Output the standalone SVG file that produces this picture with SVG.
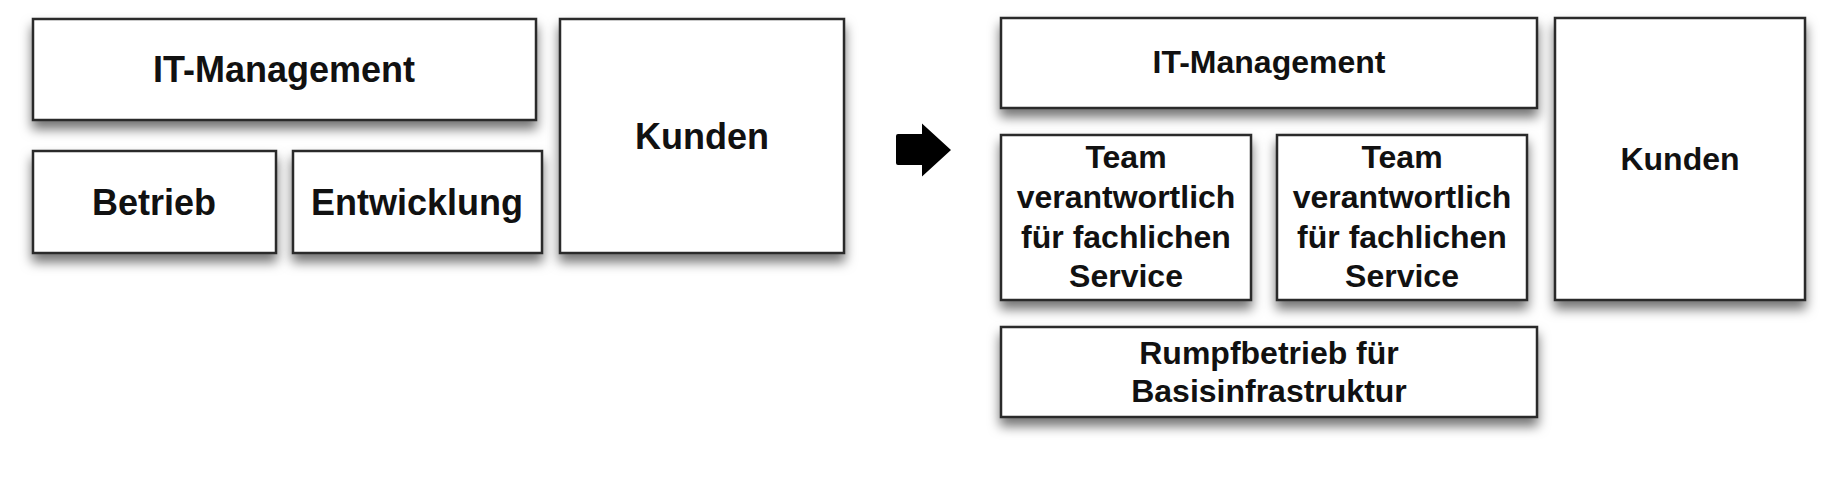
<svg xmlns="http://www.w3.org/2000/svg" width="1845" height="478" viewBox="0 0 1845 478">
<style>
.box{fill:#fff;stroke:#2a2a2a;stroke-width:2.5;filter:url(#sh)}
.t{font-family:"Liberation Sans",Arial,sans-serif;font-weight:bold;fill:#111;text-anchor:middle}
.l{font-size:36px}
.r{font-size:32px}
</style>
<defs>
<filter id="sh" x="-10%" y="-20%" width="120%" height="150%">
<feDropShadow dx="0" dy="8" stdDeviation="6" flood-color="#000" flood-opacity="0.55"/>
</filter>
</defs>
<rect width="1845" height="478" fill="#fff"/>
<g id="it-management-left">
<rect class="box" x="33" y="19" width="503" height="101"/>
<text class="t l" x="284" y="82">IT-Management</text>
</g>
<g id="betrieb">
<rect class="box" x="33" y="151" width="243" height="102"/>
<text class="t l" x="154" y="215">Betrieb</text>
</g>
<g id="entwicklung">
<rect class="box" x="293" y="151" width="249" height="102"/>
<text class="t l" x="417" y="215">Entwicklung</text>
</g>
<g id="kunden-left">
<rect class="box" x="560" y="19" width="284" height="234"/>
<text class="t l" x="702" y="149">Kunden</text>
</g>
<g id="connectors">
<path d="M898,134 L922,134 L922,123.5 L951,150 L922,176.5 L922,165 L898,165 Q896,165 896,163 L896,136 Q896,134 898,134 Z" fill="#000"/>
</g>
<g id="it-management-right">
<rect class="box" x="1001" y="18" width="536" height="90"/>
<text class="t r" x="1269" y="73">IT-Management</text>
</g>
<g id="team-1">
<rect class="box" x="1001" y="135" width="250" height="165"/>
<text class="t r" x="1126" y="168">Team</text>
<text class="t r" x="1126" y="208">verantwortlich</text>
<text class="t r" x="1126" y="248">für fachlichen</text>
<text class="t r" x="1126" y="287">Service</text>
</g>
<g id="team-2">
<rect class="box" x="1277" y="135" width="250" height="165"/>
<text class="t r" x="1402" y="168">Team</text>
<text class="t r" x="1402" y="208">verantwortlich</text>
<text class="t r" x="1402" y="248">für fachlichen</text>
<text class="t r" x="1402" y="287">Service</text>
</g>
<g id="kunden-right">
<rect class="box" x="1555" y="18" width="250" height="282"/>
<text class="t r" x="1680" y="170">Kunden</text>
</g>
<g id="rumpfbetrieb">
<rect class="box" x="1001" y="327" width="536" height="90"/>
<text class="t r" x="1269" y="364">Rumpfbetrieb für</text>
<text class="t r" x="1269" y="402">Basisinfrastruktur</text>
</g>
</svg>
